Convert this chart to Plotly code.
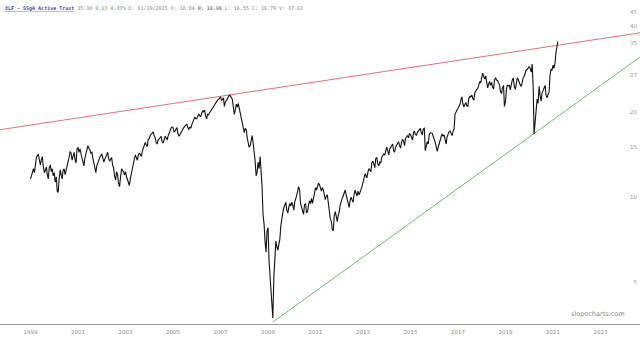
import plotly.graph_objects as go

# XLF prices (log scale).
# pYYYY: mid-month values, eYYYY: values around the 1st of each month.
p1999 = [12.0, 12.6, 13.3, 14.0, 13.6, 13.5, 12.9, 12.4, 12.0, 12.7, 12.3, 11.9]
e1999 = [11.6, 12.5, 12.2, 13.8, 14.2, 13.0, 13.9, 12.2, 12.8, 11.6, 13.0, 12.6]
p2000 = [11.3, 10.5, 11.6, 12.0, 12.4, 12.0, 13.0, 13.8, 14.3, 14.0, 13.6, 14.7]
e2000 = [12.2, 11.8, 10.4, 12.5, 11.6, 12.6, 12.4, 13.3, 14.5, 13.5, 14.4, 13.2]
p2001 = [14.4, 14.2, 13.2, 13.7, 14.6, 14.9, 14.3, 13.8, 12.6, 12.9, 13.6, 14.0]
e2001 = [15.0, 14.8, 13.8, 12.9, 14.3, 15.2, 14.7, 14.4, 13.3, 12.2, 13.3, 13.8]
p2002 = [13.8, 13.6, 14.2, 13.7, 13.6, 13.0, 11.9, 12.3, 11.2, 11.7, 12.4, 12.0]
e2002 = [14.2, 13.3, 13.9, 14.4, 13.4, 13.8, 12.7, 11.5, 12.0, 10.9, 12.6, 12.3]
p2003 = [11.8, 11.3, 11.6, 12.8, 13.6, 13.8, 14.0, 14.2, 14.5, 15.3, 15.3, 16.0]
e2003 = [12.3, 11.4, 11.0, 12.2, 13.2, 14.1, 13.5, 14.3, 13.9, 14.8, 15.6, 15.1]
p2004 = [16.5, 16.8, 16.5, 15.6, 15.9, 16.2, 15.7, 16.1, 16.2, 16.4, 17.3, 17.7]
e2004 = [16.1, 16.7, 17.0, 16.2, 15.4, 16.0, 16.4, 15.5, 16.4, 15.9, 16.8, 17.5]
p2005 = [17.0, 17.4, 16.8, 16.6, 17.2, 17.6, 17.9, 17.6, 17.7, 18.0, 18.9, 18.9]
e2005 = [17.6, 17.1, 17.6, 16.4, 16.9, 17.4, 17.8, 18.1, 17.3, 17.5, 18.4, 19.2]
p2006 = [19.3, 19.4, 19.7, 20.0, 19.4, 19.6, 19.8, 20.5, 21.0, 21.6, 22.0, 22.4]
e2006 = [18.9, 19.6, 19.2, 20.2, 20.3, 18.9, 19.5, 20.1, 20.8, 21.3, 21.9, 22.1]
p2007 = [22.0, 22.4, 21.6, 22.3, 22.9, 22.5, 21.0, 20.3, 20.8, 20.6, 18.8, 17.8]
e2007 = [22.6, 22.1, 20.9, 22.0, 22.6, 22.8, 22.1, 19.6, 21.3, 21.4, 19.8, 18.4]
p2008 = [17.5, 16.2, 15.0, 16.0, 15.6, 13.5, 12.2, 12.6, 12.4, 8.7, 7.0, 7.6]
e2008 = [16.9, 17.3, 15.6, 15.2, 16.5, 14.6, 11.9, 13.3, 13.9, 10.8, 8.0, 6.4]
p2009 = [6.0, 4.7, 3.75, 5.9, 6.7, 6.8, 7.9, 8.8, 9.5, 9.0, 9.2, 9.3]
e2009 = [7.8, 5.3, 4.3, 5.3, 7.0, 6.5, 7.1, 8.6, 9.2, 9.6, 8.8, 9.5]
p2010 = [9.4, 9.6, 10.1, 10.9, 9.5, 9.0, 9.4, 8.8, 9.4, 9.5, 9.5, 10.5]
e2010 = [9.6, 9.0, 10.0, 10.5, 10.6, 9.2, 8.7, 9.5, 8.9, 9.7, 9.9, 10.0]
p2011 = [10.6, 11.2, 10.7, 10.8, 10.2, 10.1, 9.6, 8.4, 7.7, 8.6, 8.5, 8.6]
e2011 = [10.8, 11.0, 11.1, 10.5, 10.6, 9.8, 10.2, 8.9, 8.2, 7.6, 8.9, 8.2]
p2012 = [9.4, 9.9, 10.4, 10.2, 9.6, 9.7, 9.8, 10.2, 10.3, 10.5, 10.4, 10.9]
e2012 = [8.9, 9.8, 10.1, 10.6, 9.9, 9.2, 10.0, 9.6, 10.6, 10.1, 10.2, 10.6]
p2013 = [11.7, 11.9, 12.2, 12.5, 13.2, 13.1, 13.7, 13.1, 13.3, 13.8, 14.2, 14.7]
e2013 = [11.3, 12.1, 11.7, 12.6, 12.3, 13.4, 12.7, 13.8, 12.9, 13.2, 14.0, 14.1]
p2014 = [14.6, 14.8, 15.2, 14.6, 15.0, 15.5, 15.2, 15.6, 15.8, 16.1, 16.5, 16.8]
e2014 = [15.0, 14.1, 15.0, 15.4, 14.4, 15.3, 15.7, 14.9, 16.0, 15.2, 16.3, 16.2]
p2015 = [16.2, 16.9, 16.7, 16.9, 17.3, 16.9, 17.4, 14.6, 15.7, 16.6, 16.9, 16.4]
e2015 = [16.6, 15.9, 17.1, 16.5, 17.1, 17.5, 16.6, 17.5, 15.2, 15.4, 16.9, 16.8]
p2016 = [15.6, 14.5, 15.5, 16.3, 16.4, 15.9, 16.3, 17.0, 16.8, 17.0, 19.6, 20.3]
e2016 = [16.0, 15.0, 15.0, 16.0, 16.7, 16.6, 15.4, 16.8, 17.1, 16.5, 17.4, 20.1]
p2017 = [21.0, 22.1, 21.4, 21.2, 21.0, 22.3, 22.6, 22.3, 23.3, 24.0, 24.9, 25.3]
e2017 = [20.6, 21.3, 22.6, 20.8, 21.6, 20.9, 22.7, 22.9, 22.0, 23.9, 24.2, 25.6]
p2018 = [27.4, 26.1, 25.3, 25.0, 24.8, 24.4, 25.8, 25.9, 25.3, 23.6, 24.3, 20.9]
e2018 = [26.2, 26.6, 26.8, 24.3, 25.6, 25.4, 24.1, 26.4, 25.8, 24.9, 23.2, 24.8]
p2019 = [24.1, 24.7, 23.9, 25.9, 24.6, 25.7, 26.0, 24.9, 26.0, 26.7, 28.1, 28.6]
e2019 = [21.8, 24.9, 24.8, 25.2, 26.3, 24.0, 26.4, 25.3, 24.6, 26.5, 27.3, 28.2]
p2020 = [28.4, 29.5, 16.7, 21.0, 21.4, 22.9, 23.3, 24.3, 22.9, 23.0, 26.9, 28.0]
e2020 = [28.9, 27.6, 24.5, 19.0, 22.2, 24.6, 21.8, 23.8, 24.8, 22.4, 23.5, 28.3]
p2021 = [28.5, 32.5, 35.38]
e2021 = [29.2, 29.8, 34.6]

years = list(range(1999, 2022))
mid_values = [p1999, p2000, p2001, p2002, p2003, p2004, p2005, p2006, p2007, p2008,
              p2009, p2010, p2011, p2012, p2013, p2014, p2015, p2016, p2017, p2018,
              p2019, p2020, p2021]
start_values = [e1999, e2000, e2001, e2002, e2003, e2004, e2005, e2006, e2007, e2008,
                e2009, e2010, e2011, e2012, e2013, e2014, e2015, e2016, e2017, e2018,
                e2019, e2020, e2021]

dates, prices = [], []
for yr, evals, pvals in zip(years, start_values, mid_values):
    for m, (ev, pv) in enumerate(zip(evals, pvals)):
        dates.append(f"{yr}-{m + 1:02d}-01")
        prices.append(ev)
        dates.append(f"{yr}-{m + 1:02d}-15")
        prices.append(pv)

# Trend lines (two anchor points each)
red_dates = ["1997-09-18", "2024-08-30"]
red_values = [17.3, 38.0]
green_dates = ["2009-03-18", "2024-08-30"]
green_values = [3.63, 31.2]

# Axis ticks
x_tick_years = list(range(1999, 2024, 2))
y_tick_vals = [5, 10, 15, 20, 27, 35, 40, 45]

fig = go.Figure()
fig.add_trace(go.Scatter(x=red_dates, y=red_values, mode="lines",
                         line=dict(color="#e06060", width=0.9), hoverinfo="skip"))
fig.add_trace(go.Scatter(x=green_dates, y=green_values, mode="lines",
                         line=dict(color="#5cb85c", width=0.9), hoverinfo="skip"))
fig.add_trace(go.Scatter(x=dates, y=prices, mode="lines",
                         line=dict(color="#111111", width=1.1)))

fig.update_layout(
    width=640, height=338,
    margin=dict(l=0, r=0, t=0, b=14),
    paper_bgcolor="white", plot_bgcolor="white",
    showlegend=False,
    xaxis=dict(type="date", range=["1997-09-18", "2024-08-30"],
               showgrid=False, zeroline=False,
               showline=True, linecolor="#999999", linewidth=1,
               tickvals=[f"{y}-01-01" for y in x_tick_years],
               ticktext=[str(y) for y in x_tick_years],
               ticks="outside", ticklen=2, tickcolor="white",
               tickfont=dict(size=5.5, color="#888888", family="DejaVu Sans")),
    yaxis=dict(type="log", range=[0.5527, 1.6955], side="right",
               ticklabelposition="inside", showgrid=False, zeroline=False,
               showline=False,
               tickvals=y_tick_vals, ticktext=[str(v) for v in y_tick_vals],
               tickfont=dict(size=5.5, color="#999999", family="DejaVu Sans")),
)

fig.add_annotation(xref="paper", yref="paper", x=0.005, y=1, yshift=-3,
                   xanchor="left", yanchor="top", showarrow=False,
                   text=("<b><u><span style='color:#3b45c8'>XLF - SSgA Active Trust</span></u></b>"
                         " <span style='color:#888'>35.38</span>"
                         " <span style='color:#3aa33a'>0.13 0.37%</span>"
                         " <span style='color:#888'>D: 01/20/2015 O: 16.84 <b>H: 16.98</b> L: 16.55 C: 16.79 V: 37.63</span>"),
                   font=dict(size=5, family="DejaVu Sans Mono", color="#888"))

fig.add_annotation(xref="paper", yref="paper", x=0.98, y=0, yshift=4,
                   xanchor="right", yanchor="bottom", showarrow=False,
                   text="slopecharts.com",
                   font=dict(size=6.5, family="DejaVu Sans", color="#888888"))

fig.write_html("out.html", config={"displayModeBar": False})
